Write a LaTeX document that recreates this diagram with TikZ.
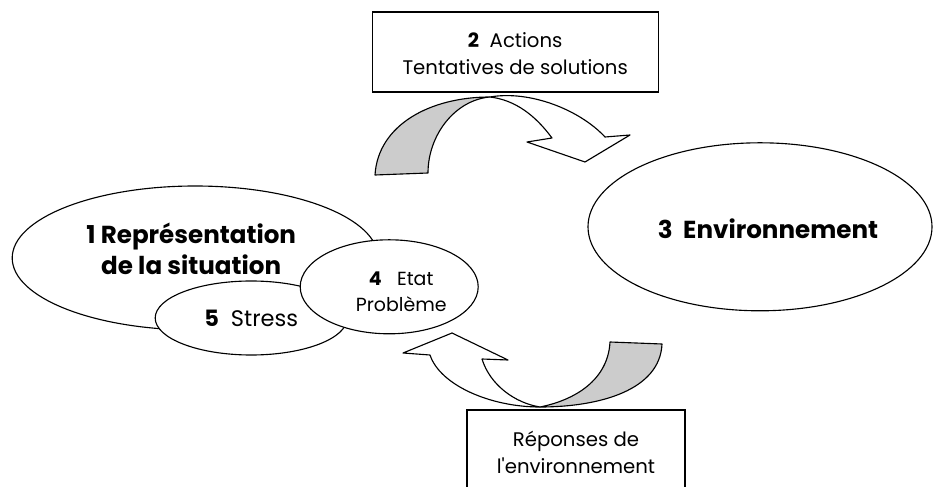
\documentclass[tikz,border=0pt]{standalone}
\usepackage{fontspec}
\setmainfont{Poppins}[Ligatures=TeXOff]
\usepackage{tikz}
\usetikzlibrary{shapes.geometric}
\usepackage{xcolor}
\definecolor{cgrey}{HTML}{CCCCCC}

\begin{document}
\begin{tikzpicture}[
  ell/.style = {ellipse, draw, line width=0.8pt, fill=white,
                inner sep=0pt, align=center},
  box/.style = {rectangle, draw, line width=0.8pt, fill=white,
                inner sep=0pt, align=center},
  band/.style = {draw, line width=0.8pt, line join=round},
  txt/.style = {inner sep=0pt, align=center},
  huge/.style = {font=\fontsize{17.5}{22}\selectfont},
  big/.style = {font=\fontsize{16}{21}\selectfont},
  mid/.style = {font=\fontsize{14}{19.2}\selectfont},
  sml/.style = {font=\fontsize{13.5}{18.5}\selectfont}
]
\path[use as bounding box, clip] (0,0) rectangle (23.5,12.15);

\node[ell, minimum width=9.15cm, minimum height=3.6cm,
      label={[txt, huge, xshift=-0.1cm, yshift=0.22cm]center:{\textbf{1 Représentation}\\\textbf{de la situation}}}]
  (rep) at (4.88, 5.70) {};
\node[ell, big, minimum width=4.8cm, minimum height=1.85cm] (str) at (6.28, 4.20)
  {\textbf{5}\ \ Stress};
\node[ell, minimum width=4.45cm, minimum height=2.35cm,
      label={[txt, sml, xshift=0.3cm, yshift=-0.12cm]center:{\textbf{4}\ \ \ Etat\\Problème}}]
  (eta) at (9.73, 4.98) {};
\node[ell, minimum width=8.6cm, minimum height=4.2cm,
      label={[txt, huge, xshift=0.2cm, yshift=-0.06cm]center:{\textbf{3\ \ Environnement}}}]
  (env) at (19.00, 6.48) {};
\node[box, minimum width=7.15cm, minimum height=2.0cm,
      label={[txt, mid, yshift=-0.05cm]center:{\textbf{2}\ \ Actions\\Tentatives de solutions}}]
  (act) at (12.88, 10.85) {};
\node[box, mid, minimum width=5.45cm, minimum height=2.1cm] (rev) at (14.40, 0.85)
  {Réponses de\\l'environnement};

\draw[band, fill=cgrey] (9.375,7.775) .. controls (9.45,9.025) and (10.75,9.725) .. (12.25,9.725)
  .. controls (11.375,9.65) and (10.70,8.775) .. (10.70,7.825) -- cycle;
\draw[band, fill=white] (12.25,9.725) .. controls (13.25,9.9) and (14.5,9.4) .. (15.125,8.725)
  -- (15.75,8.775) -- (14.625,8.1) -- (13.175,8.6) -- (13.8,8.7)
  .. controls (13.375,9.275) and (12.875,9.65) .. (12.25,9.725) -- cycle;

\draw[band, fill=cgrey] (16.55,3.55) .. controls (16.5,2.4) and (15.0,1.975) .. (13.5,1.975)
  .. controls (14.375,2.15) and (15.2,2.65) .. (15.25,3.6) -- cycle;
\draw[band, fill=white] (13.5,1.975) .. controls (12.25,1.975) and (11.0,2.525) .. (10.75,3.275)
  -- (10.075,3.325) -- (11.3,3.825) -- (12.7,3.15) -- (12.05,3.175)
  .. controls (12.25,2.525) and (12.875,2.075) .. (13.5,1.975) -- cycle;
\end{tikzpicture}
\end{document}
